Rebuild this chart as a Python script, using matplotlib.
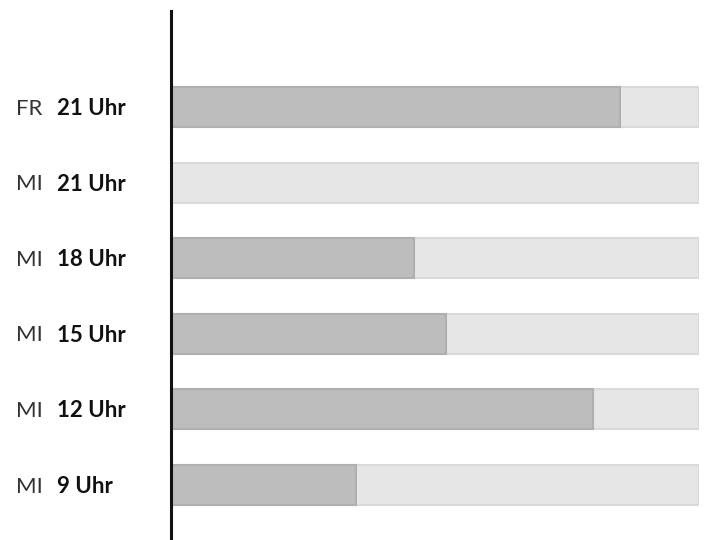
import matplotlib
matplotlib.use('Agg')
from matplotlib import pyplot as plt
import matplotlib.transforms as mtransforms

# time slots, bottom to top
days = ['MI', 'MI', 'MI', 'MI', 'MI', 'FR']
hours = ['9 Uhr', '12 Uhr', '15 Uhr', '18 Uhr', '21 Uhr', '21 Uhr']
values = [35, 80, 52, 46, 0, 85]
full = 100

plt.rcParams['font.family'] = ['Lato', 'DejaVu Sans']

fig = plt.figure(figsize=(7.12, 5.4), dpi=100)
ax = fig.add_axes([171 / 712, 0, 528 / 712, 1 - 11 / 540])

pos = list(range(len(values)))
ax.barh(pos, [full] * len(pos), height=0.53, color='#e6e6e6',
        edgecolor='#dadada', linewidth=1.5, zorder=1)
ax.barh(pos, values, height=0.53, color='#bdbdbd',
        edgecolor='#b0b0b0', linewidth=1.5, zorder=2)

ax.set_xlim(0, full)
ax.set_ylim(-0.727, 6.27)
for side in ['top', 'right', 'bottom']:
    ax.spines[side].set_visible(False)
ax.spines['left'].set_linewidth(2.2)
ax.spines['left'].set_color('#111111')
ax.spines['left'].set_zorder(5)
ax.set_xticks([])
ax.set_yticks([])

trans = mtransforms.blended_transform_factory(fig.transFigure, ax.transData)
for p, d, h in zip(pos, days, hours):
    ax.text(16 / 712, p - 0.02, d, transform=trans, ha='left', va='center',
            fontsize=16, fontweight='normal', color='#333333', clip_on=False)
    ax.text(57 / 712, p - 0.02, h, transform=trans, ha='left', va='center',
            fontsize=16, fontweight='bold', color='#111111', clip_on=False)

fig.savefig('out.png', dpi=100)
